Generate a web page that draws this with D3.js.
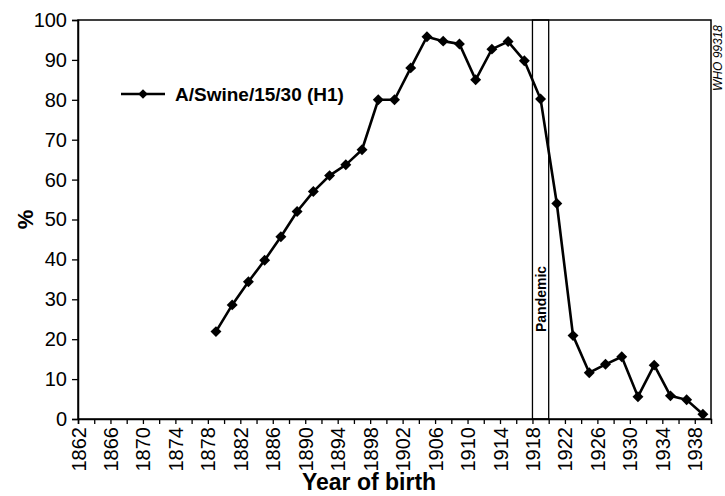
<!DOCTYPE html>
<html>
<head>
<meta charset="utf-8">
<script src="https://cdn.jsdelivr.net/npm/d3@7"></script>
<style>
  body { margin: 0; background: #fff; }
  text { font-family: "Liberation Sans", Arial, sans-serif; fill: #000; }
</style>
</head>
<body>
<div id="chart"></div>
<script>
// data
const years = [1879, 1881, 1883, 1885, 1887, 1889, 1891, 1893, 1895, 1897,
               1899, 1901, 1903, 1905, 1907, 1909, 1911, 1913, 1915, 1917,
               1919, 1921, 1923, 1925, 1927, 1929, 1931, 1933, 1935, 1937, 1939];
const percent = [21.9, 28.6, 34.4, 39.8, 45.7, 52, 57, 61, 63.7, 67.5,
                 80, 80, 88, 95.8, 94.7, 94, 85, 92.7, 94.6, 89.8,
                 80.2, 54, 20.9, 11.6, 13.7, 15.6, 5.6, 13.5, 5.8, 4.8, 1.2];
const seriesName = "A/Swine/15/30 (H1)";
const pandemic = [1918, 1920];
const yTicks = [0, 10, 20, 30, 40, 50, 60, 70, 80, 90, 100];
const xTicks = d3.range(1862, 1940, 2);
const xLabels = d3.range(1862, 1940, 4);

const width = 725, height = 496;
const margin = {top: 20, right: 14, bottom: 77, left: 78};

const svg = d3.select("#chart").append("svg")
    .attr("width", width)
    .attr("height", height);

const x = d3.scaleLinear().domain([1862, 1940]).range([margin.left, width - margin.right]);
const y = d3.scaleLinear().domain([0, 100]).range([height - margin.bottom, margin.top]);

// frame
svg.append("rect")
    .attr("x", x(1862)).attr("y", y(100))
    .attr("width", x(1940) - x(1862)).attr("height", y(0) - y(100))
    .attr("fill", "none").attr("stroke", "#000").attr("stroke-width", 1.5);

// pandemic band
svg.append("rect")
    .attr("x", x(pandemic[0])).attr("y", y(100))
    .attr("width", x(pandemic[1]) - x(pandemic[0])).attr("height", y(0) - y(100))
    .attr("fill", "none").attr("stroke", "#000").attr("stroke-width", 1.3);

svg.append("text")
    .attr("transform", "translate(" + (x(1919) + 5) + "," + 332 + ") rotate(-90)")
    .attr("font-size", 14).attr("font-weight", "bold")
    .text("Pandemic");

// y axis
const yAxis = svg.append("g")
    .attr("transform", "translate(" + margin.left + ",0)")
    .call(d3.axisLeft(y).tickValues(yTicks).tickSize(6).tickPadding(5));
yAxis.selectAll("text").attr("font-size", 20).style("font-family", "Liberation Sans, Arial, sans-serif");

// x axis
const xAxis = svg.append("g")
    .attr("transform", "translate(0," + y(0) + ")")
    .call(d3.axisBottom(x).tickValues(xTicks).tickSize(5)
        .tickFormat(d => xLabels.includes(d) ? d : ""));
xAxis.selectAll("text")
    .attr("font-size", 20)
    .style("font-family", "Liberation Sans, Arial, sans-serif")
    .attr("transform", "rotate(-90)")
    .attr("text-anchor", "end")
    .attr("x", -8).attr("y", 0).attr("dy", "0.35em");

svg.selectAll(".domain").attr("stroke-width", 1.5);
svg.selectAll(".tick line").attr("stroke-width", 1.3);

// series
const line = d3.line()
    .x((d, i) => x(years[i]))
    .y(d => y(d));

svg.append("path")
    .datum(percent)
    .attr("d", line)
    .attr("fill", "none")
    .attr("stroke", "#000")
    .attr("stroke-width", 2.6);

const diamond = d3.symbol().type(d3.symbolSquare).size(60);

svg.selectAll(".pt")
    .data(percent)
    .enter().append("path")
    .attr("class", "pt")
    .attr("d", diamond)
    .attr("transform", (d, i) => "translate(" + x(years[i]) + "," + y(d) + ") rotate(45)")
    .attr("fill", "#000");

// legend
const lg = svg.append("g").attr("transform", "translate(121,94)");
lg.append("line").attr("x1", 0).attr("x2", 44).attr("stroke", "#000").attr("stroke-width", 2.5);
lg.append("path").attr("d", d3.symbol().type(d3.symbolSquare).size(45))
    .attr("transform", "translate(22,0) rotate(45)");
lg.append("text").attr("x", 54).attr("dy", "0.36em")
    .attr("font-size", 19).attr("font-weight", "bold")
    .text(seriesName);

// axis titles
svg.append("text")
    .attr("transform", "translate(33," + y(50) + ") rotate(-90)")
    .attr("text-anchor", "middle")
    .attr("font-size", 22).attr("font-weight", "bold")
    .text("%");

svg.append("text")
    .attr("x", 369).attr("y", 490)
    .attr("text-anchor", "middle")
    .attr("font-size", 23).attr("font-weight", "bold")
    .text("Year of birth");

// figure id
svg.append("text")
    .attr("transform", "translate(722,91) rotate(-90)")
    .attr("font-size", 12).attr("font-style", "italic")
    .text("WHO 99318");
</script>
</body>
</html>
